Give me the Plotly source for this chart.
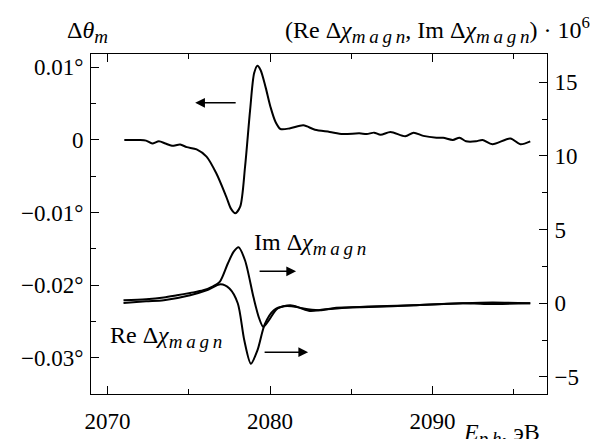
import plotly.graph_objects as go

# ---- data ----
theta_x = [2071.03, 2071.94, 2072.37, 2072.75, 2073.16, 2073.56, 2073.96, 2074.47, 2074.87,
           2075.48, 2076.09, 2076.69, 2077.30, 2077.60, 2077.86, 2078.16, 2078.46, 2078.77,
           2079.02, 2079.22, 2079.42, 2079.73, 2080.03, 2080.33, 2080.64, 2081.24, 2082.05,
           2082.76, 2083.67, 2084.48, 2085.49, 2085.95, 2086.40, 2086.80, 2087.41, 2088.32,
           2088.83, 2089.43, 2090.24, 2090.65, 2091.25, 2091.66, 2092.06, 2092.67, 2093.07,
           2093.68, 2094.79, 2095.40, 2096.01]
theta_y = [0.0, -0.00002, -0.0001, -0.0005, -0.0002, -0.0005, -0.0008, -0.00065, -0.001,
           -0.0013, -0.0023, -0.0046, -0.0078, -0.0095, -0.0101, -0.0092, -0.0037, 0.0041,
           0.0092, 0.0102, 0.0096, 0.0072, 0.0045, 0.0025, 0.0015, 0.0016, 0.0020,
           0.0014, 0.0011, 0.0008, 0.0009, 0.0008, 0.0010, 0.0007, 0.0011, 0.0005,
           0.0010, 0.00055, 0.0003, 0.0003, 0.0, 0.0003, -0.0002, -0.0002, 0.0,
           -0.0006, 0.0002, -0.0006, -0.0002]

im_x = [2070.98, 2072.37, 2073.46, 2074.27, 2075.08, 2075.89, 2076.49, 2076.90, 2077.40,
        2077.76, 2078.06, 2078.46, 2078.98, 2079.32, 2079.58, 2079.93, 2080.44, 2081.24,
        2082.05, 2083.06, 2084.07, 2086.10, 2088.83, 2091.86, 2093.17, 2096.01]
im_y = [0.2, 0.27, 0.39, 0.54, 0.7, 0.88, 1.15, 1.45, 2.7,
        3.5, 3.8, 2.9, 0.4, -1.0, -1.6, -1.15, -0.36, -0.14,
        -0.36, -0.47, -0.3, -0.25, -0.14, 0.0, -0.05, 0.0]

re_x = [2070.98, 2072.37, 2073.46, 2075.08, 2076.09, 2076.96, 2077.50, 2078.01, 2078.41,
        2078.82, 2079.22, 2079.68, 2080.23, 2080.84, 2081.64, 2082.45, 2083.27, 2084.68,
        2086.60, 2088.83, 2091.86, 2093.68, 2096.01]
re_y = [0.02, 0.13, 0.2, 0.54, 0.88, 1.29, 1.0, 0.0, -2.5,
        -4.1, -3.2, -1.4, -0.47, -0.2, -0.25, -0.52, -0.43, -0.3,
        -0.2, -0.14, 0.0, 0.05, 0.0]

x_ticks = [2070, 2080, 2090]
left_ticks = [0.01, 0.0, -0.01, -0.02, -0.03]
left_labels = ["0.01°", "0", "\u22120.01°", "\u22120.02°", "\u22120.03°"]
right_ticks = [15, 10, 5, 0, -5]
right_labels = ["15", "10", "5", "0", "\u22125"]

FONT = "Liberation Serif"
FS = 23
AFS = 24
T = "\u2009"


def sub(s, size=19):
    return '<sub><span style="font-size:%dpx"><i>%s</i></span></sub>' % (size, T.join(s))


CHI = "Δ<i>χ</i>" + sub("magn")

fig = go.Figure()
line = dict(color="black", width=2, shape="spline", smoothing=0.8)
fig.add_trace(go.Scatter(x=theta_x, y=theta_y, mode="lines", line=line, yaxis="y"))
fig.add_trace(go.Scatter(x=im_x, y=im_y, mode="lines", line=line, yaxis="y2"))
fig.add_trace(go.Scatter(x=re_x, y=re_y, mode="lines", line=line, yaxis="y2"))

tick = dict(ticks="inside", ticklen=8, tickwidth=1, tickcolor="black",
            showline=True, linecolor="black", linewidth=1,
            showgrid=False, zeroline=False, automargin=False)

fig.update_layout(
    width=595, height=439,
    margin=dict(l=91, r=48, t=54, b=45, autoexpand=False),
    paper_bgcolor="white", plot_bgcolor="white",
    showlegend=False,
    font=dict(family=FONT, size=FS, color="black"),
    xaxis=dict(range=[2068.98, 2097.04], tickvals=x_ticks, ticktext=[str(v) for v in x_ticks],
               mirror="ticks", ticklabelstandoff=6,
               minor=dict(dtick=5, tick0=2070, ticks="inside", ticklen=5, tickcolor="black"),
               **tick),
    yaxis=dict(range=[-0.035, 0.01183], tickvals=left_ticks, ticktext=left_labels,
               ticklabelstandoff=2,
               minor=dict(dtick=0.005, tick0=0, ticks="inside", ticklen=5, tickcolor="black"),
               **tick),
    yaxis2=dict(range=[-6.16, 16.92], overlaying="y", side="right",
                tickvals=right_ticks, ticktext=right_labels, ticklabelstandoff=2,
                minor=dict(dtick=2.5, tick0=0, ticks="inside", ticklen=5, tickcolor="black"),
                **tick),
)

ann = []
af = dict(family=FONT, size=AFS, color="black")
# axis labels
ann.append(dict(text="Δ<i>θ</i>" + sub("m"), xref="paper", yref="paper", font=af,
                x=-0.057, y=1.065, xanchor="left", yanchor="middle", showarrow=False))
ann.append(dict(text="(Re " + CHI + ", Im " + CHI + ") · 10<sup>6</sup>", font=af,
                xref="paper", yref="paper", x=1.0987, y=1.07, xanchor="right", yanchor="middle",
                showarrow=False))
ann.append(dict(text="<i>E</i>" + sub("ph") + ", эВ", xref="paper", yref="paper", font=af,
                x=0.99, y=-0.119, xanchor="right", yanchor="middle", showarrow=False))
# curve labels
ann.append(dict(text="Im " + CHI, xref="x", yref="y2", font=af,
                x=2078.9, y=4.0, xanchor="left", yanchor="middle", showarrow=False))
ann.append(dict(text="Re " + CHI, xref="x", yref="y2", font=af,
                x=2070.0, y=-2.3, xanchor="left", yanchor="middle", showarrow=False))
# arrows
arrow = dict(showarrow=True, arrowhead=2, arrowsize=1.3, arrowwidth=1.5, arrowcolor="black", text="")
ann.append(dict(x=2075.39, y=0.0051, xref="x", yref="y", ax=42, ay=0, **arrow))
ann.append(dict(x=2081.60, y=2.17, xref="x", yref="y2", ax=-38, ay=0, **arrow))
ann.append(dict(x=2082.34, y=-3.32, xref="x", yref="y2", ax=-45, ay=0, **arrow))
fig.update_layout(annotations=ann)

fig.write_html("out.html")
